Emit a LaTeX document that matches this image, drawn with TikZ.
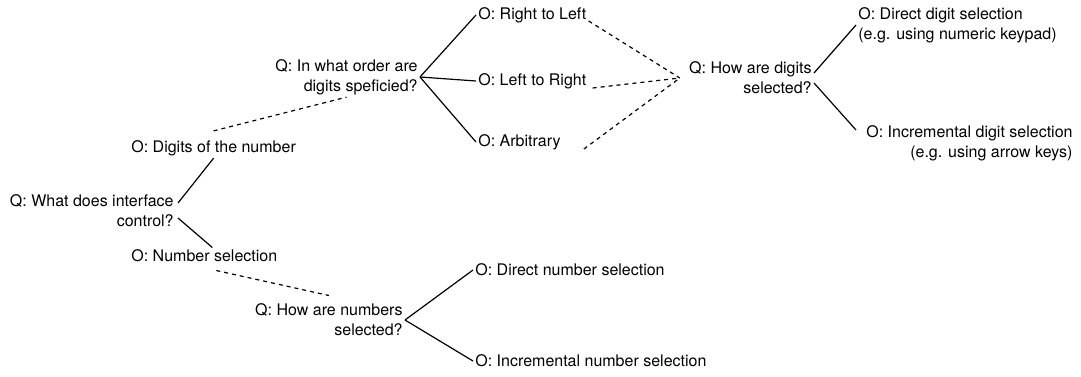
\documentclass[tikz,border=0pt]{standalone}
\usepackage{fontspec}
\setmainfont{TeX Gyre Heros}
\usepackage{tikz}
\usetikzlibrary{positioning}
\tikzstyle{question} = [anchor=east, align=right, inner sep=1pt, font=\fontsize{8pt}{10pt}\selectfont]
\tikzstyle{option} = [anchor=west, align=left, inner sep=1pt, font=\fontsize{8pt}{10pt}\selectfont]
\tikzstyle{link} = [line width=0.6pt]
\tikzstyle{hint} = [line width=0.6pt, dash pattern=on 2pt off 2pt]

\begin{document}
\begin{tikzpicture}[x=0.5pt, y=-0.5pt]
   \useasboundingbox (0,0) rectangle (1081,376);
   % questions
   \node (q1) [question] at (176,211) {Q: What does interface\\control?};
   \node (q2) [question] at (420,77) {Q: In what order are\\digits speficied?};
   \node (q4) [question] at (814,78) {Q: How are digits\\selected?};
   \node (q3) [question] at (405,320) {Q: How are numbers\\selected?};
   % options
   \node (digits) [option] at (129,148) {O: Digits of the number};
   \node (num) [option] at (129,256) {O: Number selection};
   \node (rtl) [option] at (476,15) {O: Right to Left};
   \node (ltr) [option] at (476,81) {O: Left to Right};
   \node (arb) [option] at (476,142) {O: Arbitrary};
   \node (did) [option] at (856,25) {O: Direct digit selection\\(e.g. using numeric keypad)};
   \node (iid) [option, align=right] at (864,143) {O: Incremental digit selection\\(e.g. using arrow keys)};
   \node (dns) [option] at (473,270) {O: Direct number selection};
   \node (ins) [option] at (473,361) {O: Incremental number selection};
   % solid links
   \draw [link] ([xshift=1pt,yshift=4pt]q1.east) -- (digits.south);
   \draw [link] ([xshift=1pt,yshift=-3.5pt]q1.east) -- ([xshift=4pt]num.north);
   \draw [link] (q2.east) -- (rtl.west);
   \draw [link] (q2.east) -- (ltr.west);
   \draw [link] (q2.east) -- (arb.west);
   \draw [link] ([yshift=2.5pt]q4.east) -- (did.west);
   \draw [link] ([yshift=-2.5pt]q4.east) -- ([xshift=-4pt,yshift=6.5pt]iid.west);
   \draw [link] (q3.east) -- (dns.west);
   \draw [link] (q3.east) -- (ins.west);
   % dashed links
   \draw [hint] ([yshift=3.5pt]digits.north) -- (q2.south);
   \draw [hint] ([xshift=6pt,yshift=-3pt]num.south) -- ([yshift=3pt]q3.north);
   \draw [hint] ([yshift=-3pt]rtl.east) -- ([xshift=-3.5pt]q4.west);
   \draw [hint] ([xshift=2pt,yshift=-3.5pt]ltr.east) -- ([xshift=-3.5pt]q4.west);
   \draw [hint] ([xshift=10.5pt,yshift=-3.5pt]arb.east) -- ([xshift=-3.5pt]q4.west);
\end{tikzpicture}
\end{document}
